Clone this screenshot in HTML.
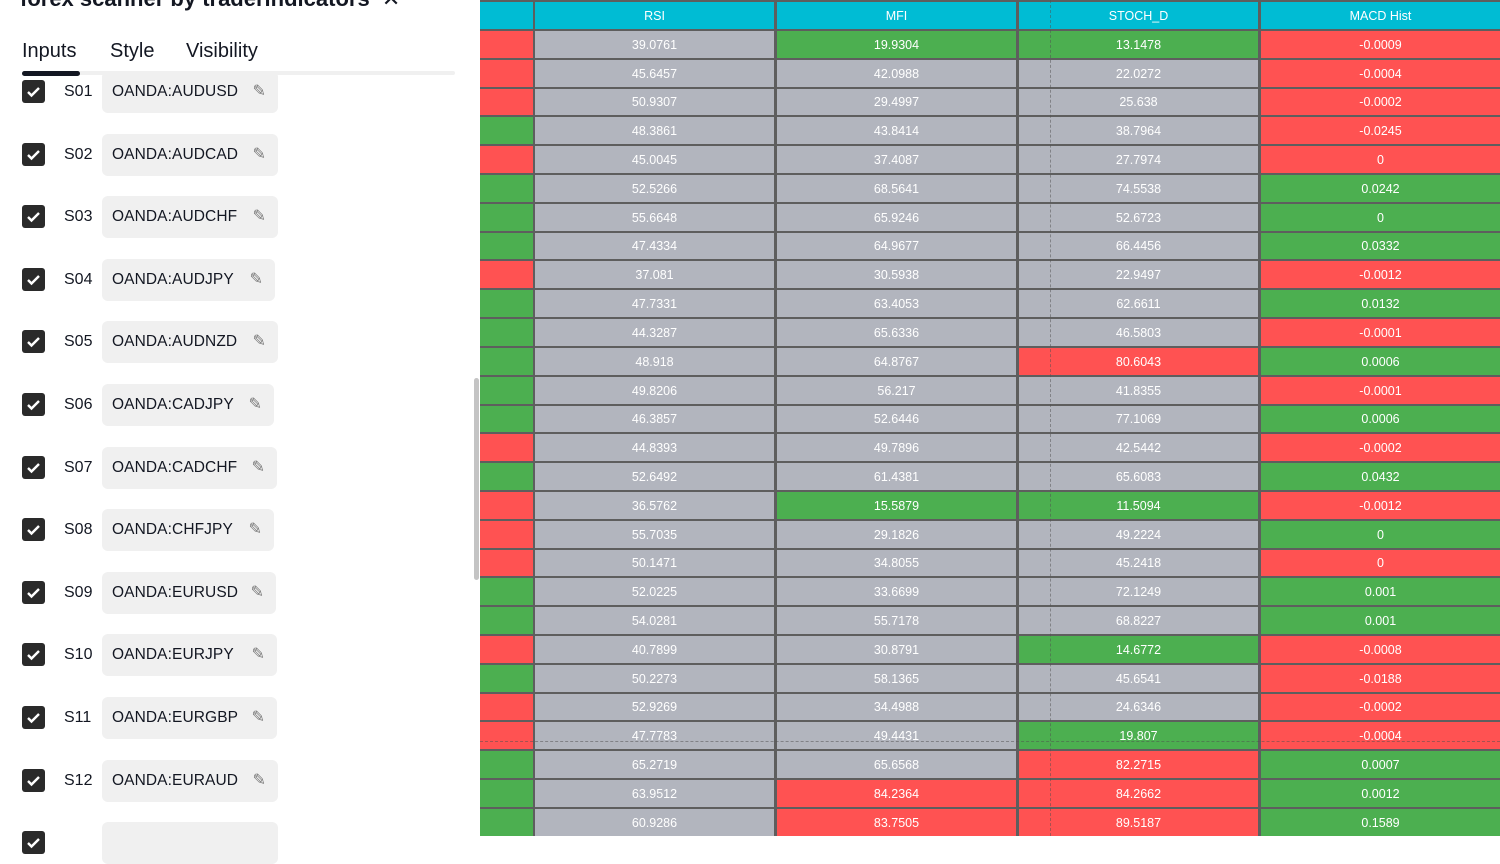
<!DOCTYPE html>
<html><head><meta charset="utf-8"><style>
*{margin:0;padding:0;box-sizing:border-box}
body{width:1500px;height:836px;overflow:hidden;background:#fff;position:relative;font-family:"Liberation Sans","DejaVu Sans",sans-serif}
.a{position:absolute}
#tbl{position:absolute;left:480px;top:0;width:1020px;height:836px;background:#5e5e5e;overflow:hidden}
.c{position:absolute;color:#fff;font-size:12.5px;display:flex;align-items:center;justify-content:center}
.cb{position:absolute;left:22px;width:23px;height:23px;background:#2a2a2a;border-radius:3px}
.cb svg{position:absolute;left:4px;top:5px}
.lab{position:absolute;left:64px;font-size:16px;color:#131722}
.box{position:absolute;left:102px;height:42px;background:#f0f0f0;border-radius:6px;font-size:15.5px;color:#131722;padding-left:10px;display:flex;align-items:center;letter-spacing:0.1px}
.tab{position:absolute;top:40px;font-size:20px;color:#131722;font-weight:500}
</style></head><body>
<div class="a" style="left:20px;top:-14px;font-size:22px;font-weight:bold;color:#131722">forex scanner by traderindicators &nbsp;✕</div>
<div class="tab" style="left:22px">Inputs</div>
<div class="tab" style="left:110px">Style</div>
<div class="tab" style="left:186px">Visibility</div>
<div class="a" style="left:22px;top:71px;width:433px;height:4px;background:#f0f0f0;border-radius:2px"></div>
<div class="a" style="left:22px;top:71px;width:58px;height:5px;background:#131722;border-radius:3px"></div>
<div class="a" style="left:474px;top:378px;width:5px;height:202px;background:#c4c4c4;border-radius:3px"></div>
<div id="left"></div>
<div id="tbl"></div>
<script>
var syms=["AUDUSD","AUDCAD","AUDCHF","AUDJPY","AUDNZD","CADJPY","CADCHF","CHFJPY","EURUSD","EURJPY","EURGBP","EURAUD",""];
var L=document.getElementById("left"),h="";
var widths=[176,176,176,173,176,172,175,172,174,175,175,176,176];
for(var i=0;i<13;i++){var y=92+i*62.6;
h+='<div class="cb" style="top:'+(y-12)+'px"><svg width="15" height="13" viewBox="0 0 15 13"><path d="M2 7l3.5 3.5L13 3" stroke="#fff" stroke-width="2.4" fill="none"/></svg></div>';
if(syms[i]){h+='<div class="lab" style="top:'+(y-9)+'px">S'+(i<9?'0':'')+(i+1)+'</div>';
h+='<div class="box" style="top:'+(y-21)+'px;width:'+widths[i]+'px">OANDA:'+syms[i]+'<span style="position:absolute;right:12px;top:10px;color:#777;font-size:16px">✎</span></div>';}
else h+='<div class="box" style="top:'+(y-21)+'px;width:176px"></div>';}
L.innerHTML=h;
var R="#ff5252",G="#4caf50",Y="#b2b5be";
var d=[
"R,39.0761,G19.9304,G13.1478,R-0.0009","R,45.6457,42.0988,22.0272,R-0.0004","R,50.9307,29.4997,25.638,R-0.0002",
"G,48.3861,43.8414,38.7964,R-0.0245","R,45.0045,37.4087,27.7974,R0","G,52.5266,68.5641,74.5538,G0.0242",
"G,55.6648,65.9246,52.6723,G0","G,47.4334,64.9677,66.4456,G0.0332","R,37.081,30.5938,22.9497,R-0.0012",
"G,47.7331,63.4053,62.6611,G0.0132","G,44.3287,65.6336,46.5803,R-0.0001","G,48.918,64.8767,R80.6043,G0.0006",
"G,49.8206,56.217,41.8355,R-0.0001","G,46.3857,52.6446,77.1069,G0.0006","R,44.8393,49.7896,42.5442,R-0.0002",
"G,52.6492,61.4381,65.6083,G0.0432","R,36.5762,G15.5879,G11.5094,R-0.0012","R,55.7035,29.1826,49.2224,G0",
"R,50.1471,34.8055,45.2418,R0","G,52.0225,33.6699,72.1249,G0.001","G,54.0281,55.7178,68.8227,G0.001",
"R,40.7899,30.8791,G14.6772,R-0.0008","G,50.2273,58.1365,45.6541,R-0.0188","R,52.9269,34.4988,24.6346,R-0.0002",
"R,47.7783,49.4431,G19.807,R-0.0004","G,65.2719,65.6568,R82.2715,G0.0007","G,63.9512,R84.2364,R84.2662,G0.0012",
"G,60.9286,R83.7505,R89.5187,G0.1589"];
var cx=[[0,53],[55,239],[297,239],[539,239],[781,239]];
var t="";
function cell(x,w,y,hh,bg,tx){t+='<div class="c" style="left:'+x+'px;width:'+w+'px;top:'+y+'px;height:'+hh+'px;background:'+bg+'">'+tx+'</div>';}
var hd=["","RSI","MFI","STOCH_D","MACD Hist"];
for(var k=0;k<5;k++)cell(cx[k][0],cx[k][1],2,27,"#00bcd4",hd[k]);
for(var r=0;r<28;r++){var y=Math.round(31+r*28.81),y2=Math.round(31+(r+1)*28.81)-2;var p=d[r].split(",");
cell(cx[0][0],cx[0][1],y,y2-y,p[0]=="R"?R:G,"");
for(var k=1;k<5;k++){var v=p[k],bg=Y;if(v[0]=="R"){bg=R;v=v.slice(1)}else if(v[0]=="G"){bg=G;v=v.slice(1)}
cell(cx[k][0],cx[k][1],y,y2-y,bg,v);}}
t+='<div class="a" style="left:570px;top:0;width:0;height:836px;border-left:1px dashed rgba(80,80,80,0.5)"></div>';
t+='<div class="a" style="left:0;top:741px;width:1020px;height:0;border-top:1px dashed rgba(80,80,80,0.5)"></div>';
document.getElementById("tbl").innerHTML=t;
</script>
</body></html>
